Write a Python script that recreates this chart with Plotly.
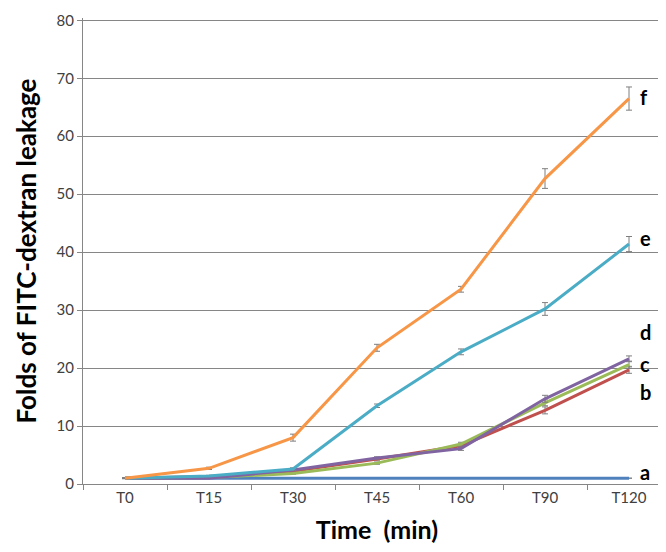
import plotly.graph_objects as go

categories = ["T0", "T15", "T30", "T45", "T60", "T90", "T120"]

series_names = ["a", "b", "c", "d", "e", "f"]
a_vals = [1.0, 1.0, 1.0, 1.0, 1.0, 1.0, 1.0]
b_vals = [1.0, 1.3, 2.2, 4.3, 6.6, 12.7, 19.7]
c_vals = [1.0, 1.1, 1.8, 3.6, 6.9, 14.0, 20.6]
d_vals = [1.0, 1.0, 2.4, 4.5, 6.1, 14.7, 21.6]
e_vals = [1.0, 1.4, 2.6, 13.5, 22.8, 30.2, 41.4]
f_vals = [1.0, 2.7, 8.0, 23.5, 33.6, 52.7, 66.5]

a_err = [0, 0, 0, 0, 0, 0, 0]
b_err = [0, 0, 0.1, 0.2, 0.3, 0.6, 0.6]
c_err = [0, 0, 0.1, 0.2, 0.3, 0.5, 0.6]
d_err = [0, 0, 0.1, 0.2, 0.3, 0.6, 0.5]
e_err = [0, 0.1, 0.2, 0.3, 0.5, 1.1, 1.3]
f_err = [0.1, 0.2, 0.6, 0.6, 0.5, 1.7, 2.0]

label_y = [2.0, 15.9, 20.7, 26.2, 42.4, 66.8]

y_ticks = [0, 10, 20, 30, 40, 50, 60, 70, 80]

colors = ["#4F81BD", "#C0504D", "#9BBB59", "#8064A2", "#4BACC6", "#F79646"]

vals = [a_vals, b_vals, c_vals, d_vals, e_vals, f_vals]
errs = [a_err, b_err, c_err, d_err, e_err, f_err]

FONT = "Lato"

fig = go.Figure()
for name, v, e, col in zip(series_names, vals, errs, colors):
    fig.add_trace(go.Scatter(
        x=categories, y=v, mode="lines", name=name,
        line=dict(color=col, width=3),
        error_y=dict(type="data", array=e, visible=True,
                     color="#7F7F7F", thickness=1, width=3),
        showlegend=False,
    ))

for name, ly in zip(series_names, label_y):
    fig.add_annotation(x=6, y=ly, xref="x", yref="y", text="<b>%s</b>" % name,
                       showarrow=False, xanchor="left", xshift=9,
                       font=dict(family=FONT, size=20, color="#000000"))

fig.update_layout(
    width=666, height=552,
    margin=dict(l=75, r=3, t=6, b=76),
    paper_bgcolor="white", plot_bgcolor="white",
    font=dict(family=FONT, color="#404040"),
)
fig.update_xaxes(
    type="category", range=[-0.5, 6.5],
    showline=True, linecolor="#868686", linewidth=1,
    ticks="outside", tickson="boundaries", ticklen=5, tickcolor="#868686",
    showgrid=False,
    tickfont=dict(family=FONT, size=15, color="#404040"),
    title=dict(text="<b>Time  (min)</b>", font=dict(family=FONT, size=25, color="#000000"), standoff=16),
)
fig.update_yaxes(
    range=[0, 80.4], tickvals=y_ticks, ticklabeloverflow="allow",
    showline=True, linecolor="#868686", linewidth=1,
    ticks="outside", ticklen=5, tickcolor="#868686",
    showgrid=True, gridcolor="#868686", gridwidth=1,
    zeroline=False,
    tickfont=dict(family=FONT, size=15, color="#404040"),
    title=dict(text="<b>Folds of FITC-dextran leakage</b>", font=dict(family=FONT, size=26, color="#000000"), standoff=12),
)

fig.write_html("out.html")
